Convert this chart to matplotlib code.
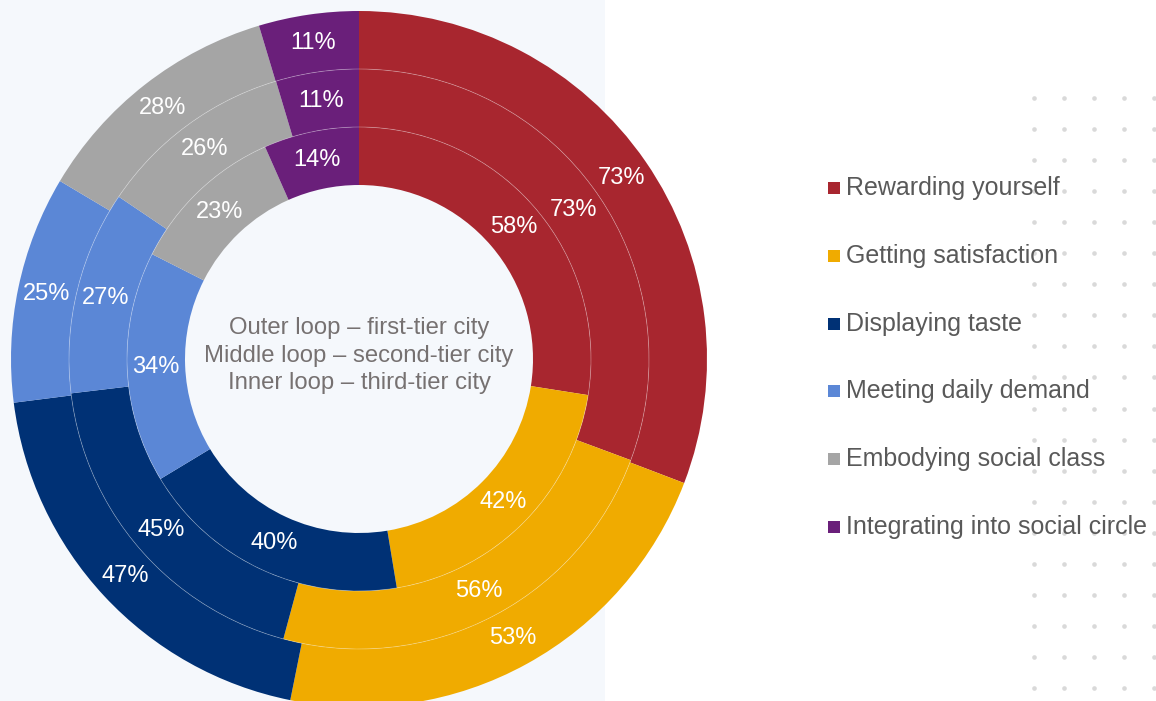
import numpy as np
import matplotlib.pyplot as plt
from matplotlib.patches import Rectangle, Circle

plt.rcParams['font.family'] = ['Liberation Sans', 'DejaVu Sans']

categories = ["Rewarding yourself", "Getting satisfaction", "Displaying taste",
              "Meeting daily demand", "Embodying social class", "Integrating into social circle"]
outer_vals = [73, 53, 47, 25, 28, 11]   # first-tier city
middle_vals = [73, 56, 45, 27, 26, 11]  # second-tier city
inner_vals = [58, 42, 40, 34, 23, 14]   # third-tier city
colors = ["#A8262F", "#F0AB00", "#003175", "#5B87D6", "#A5A5A5", "#6A1F7A"]
center_text = "Outer loop \u2013 first-tier city\nMiddle loop \u2013 second-tier city\nInner loop \u2013 third-tier city"

W, H = 1156, 701
fig = plt.figure(figsize=(W / 100, H / 100), dpi=100)
fig.patch.set_facecolor("white")

# background axes: light panel, dot grid and legend
bg = fig.add_axes([0, 0, 1, 1], zorder=0)
bg.set_xlim(0, W)
bg.set_ylim(H, 0)
bg.axis("off")
bg.add_patch(Rectangle((0, 0), 605, H, facecolor="#F5F8FC", edgecolor="none"))
gx, gy = np.meshgrid([1034, 1064, 1094, 1124, 1154], np.linspace(98, 688, 20))
bg.scatter(gx.ravel(), gy.ravel(), s=11, color="#D9D9D9", linewidths=0)

for i, (name, c) in enumerate(zip(categories, colors)):
    y = 188 + i * 67.8
    bg.add_patch(Rectangle((828, y - 6), 12, 12, facecolor=c, edgecolor="none"))
    bg.text(846, y, name, fontsize=18, color="#595959", ha="left", va="center")

# donut
R = 348
cx, cy = 359, 359
ax = fig.add_axes([(cx - R) / W, (H - cy - R) / H, 2 * R / W, 2 * R / H], zorder=1)

width = 58 / R
rings = [(outer_vals, 1.0), (middle_vals, 1.0 - width), (inner_vals, 1.0 - 2 * width)]
for vals, rad in rings:
    wedges, texts = ax.pie(vals, radius=rad, colors=colors, startangle=90, counterclock=False,
                           labels=[f"{v}%" for v in vals], labeldistance=(rad - width / 2) / rad,
                           wedgeprops=dict(width=width, edgecolor="none"),
                           textprops=dict(color="white", fontsize=17, ha="center", va="center"))
    for w in wedges:
        w.set_clip_on(False)
    for t in texts:
        t.set_clip_on(False)

for rad in [1.0 - width, 1.0 - 2 * width]:
    ax.add_patch(Circle((0, 0), rad, fill=False, edgecolor="white", alpha=0.3, lw=0.6, clip_on=False))

ax.text(0, 0.01, center_text, ha="center", va="center", fontsize=17.2, color="#767171",
        linespacing=1.33)

ax.set_xlim(-1, 1)
ax.set_ylim(-1, 1)
ax.set_aspect("auto")
ax.axis("off")

fig.savefig("out.png", dpi=100)
